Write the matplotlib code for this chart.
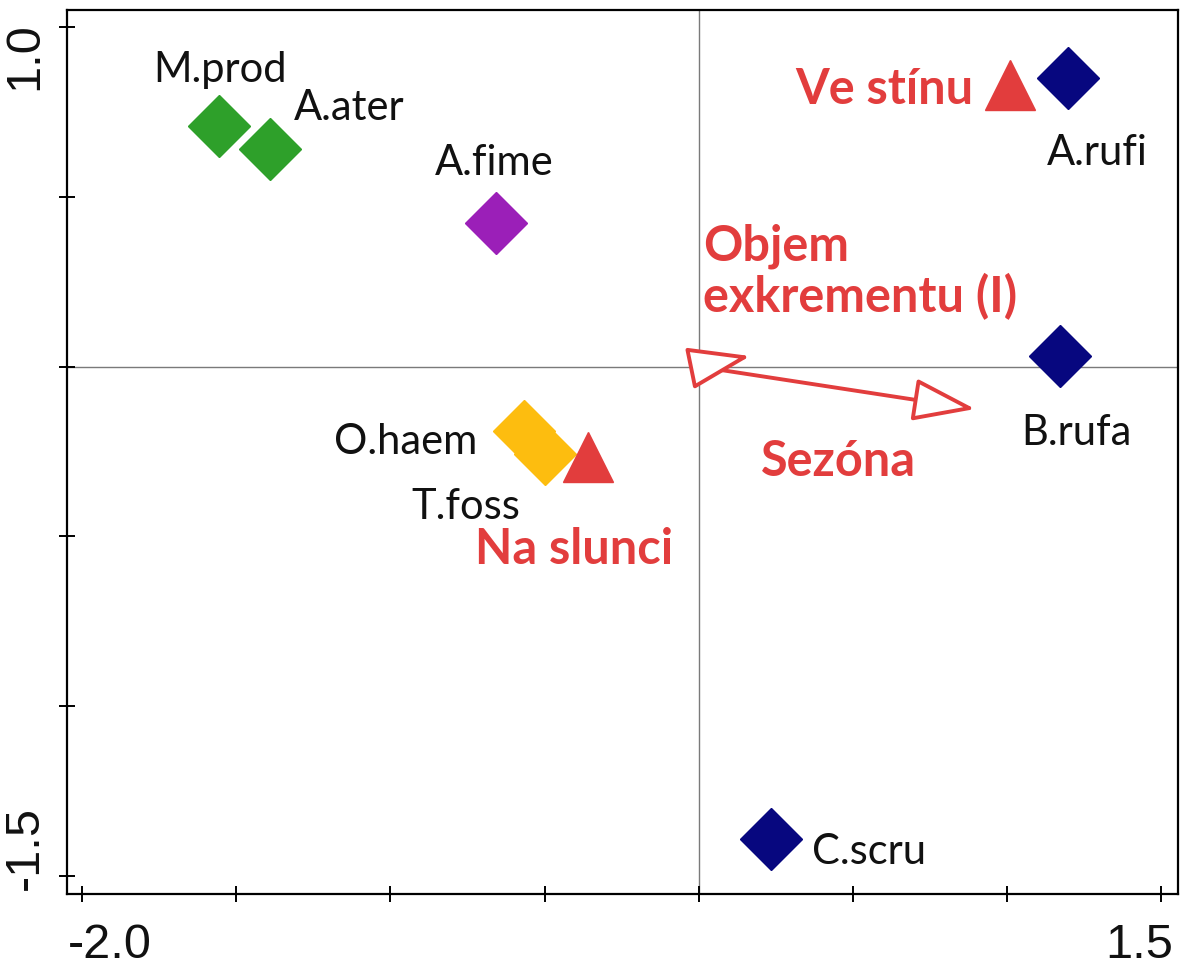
"""CCA-style ordination diagram: species, habitat classes and env. arrows."""
import matplotlib
matplotlib.use("Agg")
import matplotlib.pyplot as plt
from matplotlib.transforms import ScaledTranslation

# species scores
species = ["M.prod", "A.ater", "A.fime", "O.haem", "T.foss",
           "A.rufi", "B.rufa", "C.scru"]
species_x = [-1.555, -1.390, -0.657, -0.566, -0.498, 1.199, 1.173, 0.234]
species_y = [0.708, 0.640, 0.422, -0.190, -0.257, 0.850, 0.031, -1.391]
species_color = ["#2ea02a", "#2ea02a", "#9b1fb8", "#fdbd0f", "#fdbd0f",
                 "#07077f", "#07077f", "#07077f"]

# nominal environmental variables (centroids)
nominal = ["Ve stínu", "Na slunci"]
nominal_x = [1.010, -0.359]
nominal_y = [0.830, -0.266]

# quantitative environmental variables (arrows)
arrows = ["Sezóna", "Objem\nexkrementu (I)"]
arrow_x = [0.897, 0.167]
arrow_y = [-0.125, 0.031]

RED = "#e23d3d"

# label offsets in pixels (dx, dy) relative to each point
SP_OFF = {
    "M.prod": (1, 57), "A.ater": (79, 42), "A.fime": (-2, 61),
    "O.haem": (-118, -10), "T.foss": (-79, -52), "A.rufi": (29, -74),
    "B.rufa": (16, -76), "C.scru": (98, -12),
}
NOM_OFF = {"Ve stínu": (-126, -4), "Na slunci": (-14, -92)}
ARROW_LABEL_POS = {"Sezóna": (0.452, -0.278, "center"),
                   "Objem\nexkrementu (I)": (0.014, 0.283, "left")}


def px(v):
    return v * 72.0 / 100.0


fig = plt.figure(figsize=(11.89, 9.70), dpi=100)
ax = fig.add_axes([0.0564, 0.0773, 0.9343, 0.9114])
ax.set_xlim(-2.049, 1.555)
ax.set_ylim(-1.553, 1.050)

ax.axhline(0, color="#7a7a7a", lw=1.0, zorder=0)
ax.axvline(0, color="#7a7a7a", lw=1.0, zorder=0)

label_font = dict(family=["Lato", "DejaVu Sans"], fontsize=30, color="#111111")
red_font = dict(family=["Lato", "DejaVu Sans"], fontsize=35, color=RED,
                fontweight="bold")

for name, x, y, c in zip(species, species_x, species_y, species_color):
    ax.plot(x, y, marker="D", ms=32, color=c, mec=c, ls="none", zorder=3)
    dx, dy = SP_OFF[name]
    ax.annotate(name, (x, y), xytext=(px(dx), px(dy)),
                textcoords="offset points", ha="center", va="center",
                **label_font)

for name, x, y in zip(nominal, nominal_x, nominal_y):
    ax.plot(x, y, marker="^", ms=36, color=RED, mec=RED, ls="none", zorder=3)
    dx, dy = NOM_OFF[name]
    ax.annotate(name, (x, y), xytext=(px(dx), px(dy)),
                textcoords="offset points", ha="center", va="center",
                **red_font)

for name, x, y in zip(arrows, arrow_x, arrow_y):
    ax.annotate("", xy=(x, y), xytext=(0, 0),
                arrowprops=dict(arrowstyle="-|>,head_length=1.95,head_width=0.67",
                                mutation_scale=20, lw=2.8, edgecolor=RED,
                                facecolor="white", shrinkA=0, shrinkB=0),
                zorder=4)
    lx, ly, ha = ARROW_LABEL_POS[name]
    ax.text(lx, ly, name, ha=ha, va="center", linespacing=1.1, **red_font)

for s in ax.spines.values():
    s.set_linewidth(1.6)

xt = [-2.0, -1.5, -1.0, -0.5, 0.0, 0.5, 1.0, 1.5]
yt = [-1.5, -1.0, -0.5, 0.0, 0.5, 1.0]
ax.set_xticks(xt, ["-2.0"] + [""] * 6 + ["1.5"])
ax.set_yticks(yt, ["-1.5"] + [""] * 4 + ["1.0"])
ax.tick_params(direction="inout", length=12, width=1.4, labelsize=35,
               labelcolor="#111111")
ax.tick_params(axis="x", pad=14)
ax.tick_params(axis="y", pad=8)
for lab in ax.get_xticklabels() + ax.get_yticklabels():
    lab.set_family(["Liberation Sans", "DejaVu Sans"])

xl = ax.get_xticklabels()
xl[0].set_ha("left")
xl[0].set_transform(xl[0].get_transform()
                    + ScaledTranslation(-0.14, 0, fig.dpi_scale_trans))
xl[-1].set_ha("right")
xl[-1].set_transform(xl[-1].get_transform()
                     + ScaledTranslation(0.12, 0, fig.dpi_scale_trans))
yl = ax.get_yticklabels()
for lab in yl:
    lab.set_rotation(90)
    lab.set_rotation_mode("anchor")
    lab.set_va("bottom")
yl[0].set_ha("left")
yl[0].set_transform(yl[0].get_transform()
                    + ScaledTranslation(0, -0.13, fig.dpi_scale_trans))
yl[-1].set_ha("right")
yl[-1].set_transform(yl[-1].get_transform()
                     + ScaledTranslation(0, 0.06, fig.dpi_scale_trans))

fig.savefig("out.png", dpi=100)
